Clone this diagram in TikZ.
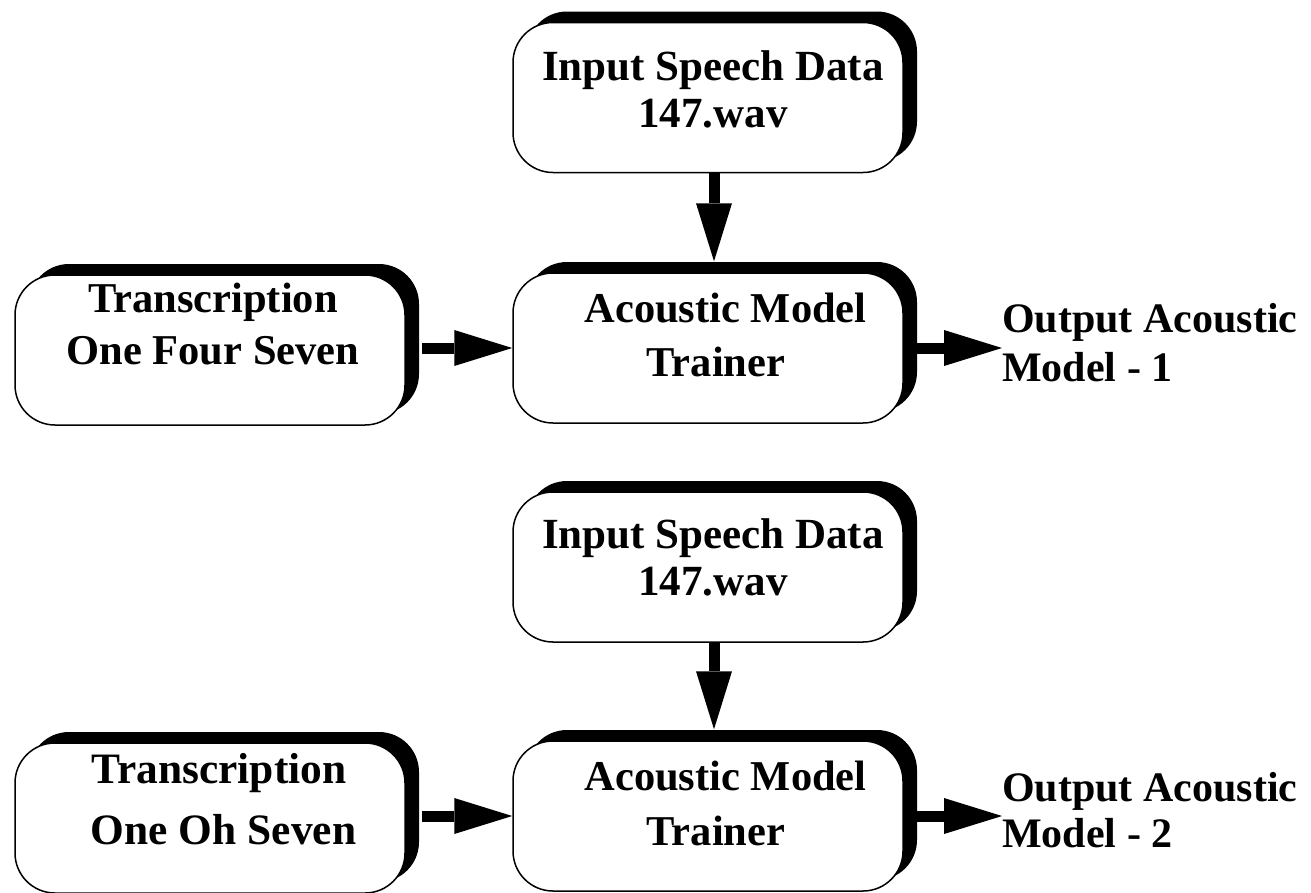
\documentclass[tikz,border=0pt]{standalone}
\usepackage{fontspec}
\setmainfont{Liberation Serif}
\usetikzlibrary{arrows.meta,shadows,calc}
\begin{document}
\begin{tikzpicture}[x=1pt,y=-1pt,
  box/.style={draw, line width=1.5pt, rounded corners=40pt, fill=white,
    minimum width=390pt, minimum height=150pt, inner sep=0pt,
    general shadow={fill=black, shadow xshift=14pt, shadow yshift=11pt}},
  txt/.style={align=center, inner sep=0pt, font=\bfseries\fontsize{43}{47}\selectfont},
  outtxt/.style={align=left, inner sep=0pt, anchor=west},
  arr/.style={line width=11pt, -{Triangle[length=58pt,width=36pt,line width=0pt]}}
]
\useasboundingbox (0,0) rectangle (1311,892);

% boxes
\node[box] (A1) at (708,97.5) {};
\node[box] (B1) at (708,348) {};
\node[box] (T1) at (210,350) {};
\node[box] (A2) at (708,567) {};
\node[box] (B2) at (708,816) {};
\node[box] (T2) at (210,818) {};

% texts
\node[txt] (A1t) at ($(A1.center)+(5,-8.5)$) {Input Speech Data\\147.wav};
\node[txt, font=\bfseries\fontsize{42.5}{54}\selectfont] (B1t) at ($(B1.center)+(17.5,-13)$) {Acoustic Model\\\hspace*{-19pt}Trainer};
\node[txt, font=\bfseries\fontsize{42.5}{52}\selectfont] (T1t) at ($(T1.center)+(3,-25.5)$) {Transcription\\One Four Seven};
\node[txt] (A2t) at ($(A2.center)+(5,-10)$) {Input Speech Data\\147.wav};
\node[txt, font=\bfseries\fontsize{42.5}{55}\selectfont] (B2t) at ($(B2.center)+(17.5,-12.7)$) {Acoustic Model\\\hspace*{-19pt}Trainer};
\node[txt, font=\bfseries\fontsize{43.4}{61}\selectfont] (T2t) at ($(T2.center)+(9,-19)$) {Transcription\\\hspace*{9pt}One Oh Seven};

\node[outtxt, font=\bfseries\fontsize{42}{49}\selectfont] (out1) at (1002,343) {Output Acoustic\\Model - 1};
\node[outtxt, font=\bfseries\fontsize{42}{46}\selectfont] (out2) at (1002,810.5) {Output Acoustic\\Model - 2};

% connectors
\draw[arr] ([xshift=6pt]A1.south) -- ([xshift=6pt,yshift=11pt]B1.north);
\draw[arr] ([xshift=16pt]T1.east |- B1.west) -- (B1.west);
\draw[arr] ([xshift=12pt]B1.east) -- (B1.east -| out1.west);

\draw[arr] ([xshift=6pt]A2.south) -- ([xshift=6pt,yshift=11pt]B2.north);
\draw[arr] ([xshift=16pt]T2.east |- B2.west) -- (B2.west);
\draw[arr] ([xshift=12pt]B2.east) -- (B2.east -| out2.west);
\end{tikzpicture}
\end{document}
